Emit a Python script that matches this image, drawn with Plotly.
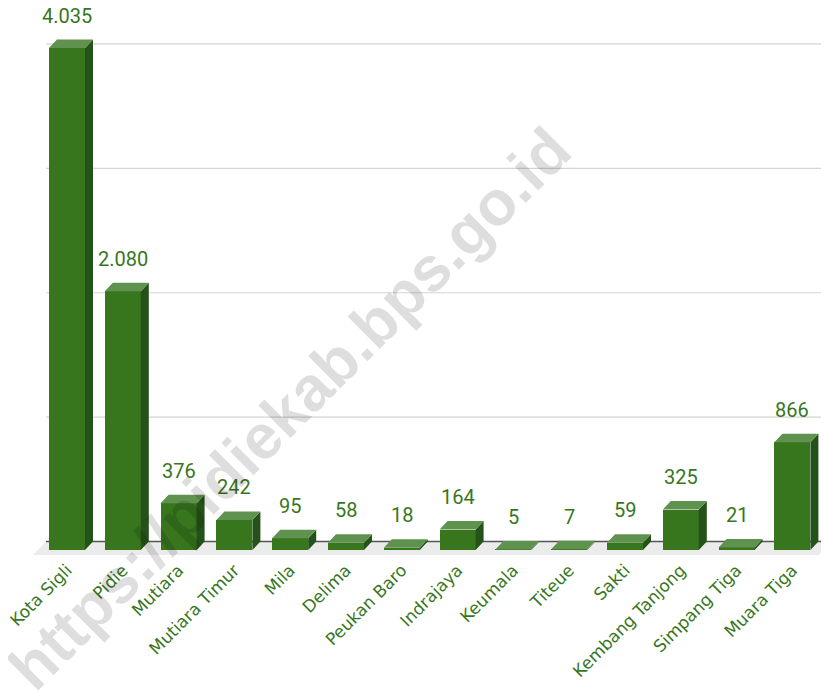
import plotly.graph_objects as go

categories = ["Kota Sigli", "Pidie", "Mutiara", "Mutiara Timur", "Mila", "Delima",
              "Peukan Baro", "Indrajaya", "Keumala", "Titeue", "Sakti",
              "Kembang Tanjong", "Simpang Tiga", "Muara Tiga"]
values = [4035, 2080, 376, 242, 95, 58, 18, 164, 5, 7, 59, 325, 21, 866]
value_labels = ["4.035", "2.080", "376", "242", "95", "58", "18", "164", "5", "7",
                "59", "325", "21", "866"]
gridline_values = [1000, 2000, 3000, 4000]

GREEN = "#38761d"
TOP = "#60924f"
SIDE = "#25521a"

idx = list(range(len(categories)))
half_w = 0.3226      # half width of front face (axis units)
dx = 0.1434          # depth offset in x (axis units)
dy = 68.3            # depth offset in y (value units)

fig = go.Figure()

# front faces
fig.add_trace(go.Bar(
    x=idx, y=values, base=[-dy] * len(values), width=2 * half_w,
    marker=dict(color=GREEN, line=dict(width=0)), hoverinfo="skip",
))

# top faces and side faces
tx, ty, sx, sy = [], [], [], []
for i, v in zip(idx, values):
    x0, x1 = i - half_w, i + half_w
    tx += [x0, x1, x1 + dx, x0 + dx, x0, None]
    ty += [v - dy, v - dy, v, v, v - dy, None]
    sx += [x1, x1, x1 + dx, x1 + dx, x1, None]
    sy += [-dy, v - dy, v, 0, -dy, None]

fig.add_trace(go.Scatter(x=sx, y=sy, mode="lines", fill="toself", fillcolor=SIDE,
                         line=dict(width=0, color=SIDE), hoverinfo="skip"))
fig.add_trace(go.Scatter(x=tx, y=ty, mode="lines", fill="toself", fillcolor=TOP,
                         line=dict(width=0, color=TOP), hoverinfo="skip"))

x_left, x_right = -0.376, 13.7

# floor
fig.add_shape(type="path",
              path=f"M {x_left},0 L {x_right},0 L {x_right - 0.23},-108 L {x_left - 0.23},-108 Z",
              xref="x", yref="y", fillcolor="#ebebeb", line=dict(width=0), layer="below")
# gridlines
for g in gridline_values:
    fig.add_shape(type="line", x0=x_left, x1=x_right, y0=g, y1=g, xref="x", yref="y",
                  line=dict(color="#d4d4d4", width=1.2), layer="below")
# baseline
fig.add_shape(type="line", x0=x_left, x1=x_right, y0=0, y1=0, xref="x", yref="y",
              line=dict(color="#555555", width=1.5), layer="below")

# value labels
for i, v, t in zip(idx, values, value_labels):
    fig.add_annotation(x=i, y=v, text=t, showarrow=False, yanchor="bottom", yshift=10,
                       font=dict(family="Roboto", size=20, color=GREEN))

# watermark
fig.add_annotation(x=0.325, y=0.276, xref="paper", yref="paper",
                   xanchor="center", yanchor="middle",
                   text="https://pidiekab.bps.go.id",
                   showarrow=False, textangle=-45,
                   font=dict(family="Liberation Sans", size=63, color="rgba(0,0,0,0.13)",
                             weight="bold"))

fig.update_layout(
    width=821, height=683,
    margin=dict(l=22, r=0, t=2, b=131, autoexpand=False),
    paper_bgcolor="white", plot_bgcolor="white",
    showlegend=False, bargap=0,
    xaxis=dict(range=[-0.663, 13.656], tickmode="array", tickvals=idx, ticktext=categories,
               tickangle=-45, showgrid=False, zeroline=False, showline=False, ticks="",
               ticklabeloverflow="allow", automargin=False, ticklabelstandoff=-4,
               tickfont=dict(family="DejaVu Sans", size=17, color=GREEN)),
    yaxis=dict(range=[-148.7, 4273], showgrid=False, zeroline=False, showticklabels=False,
               showline=False, automargin=False),
)

fig.write_html("out.html")
